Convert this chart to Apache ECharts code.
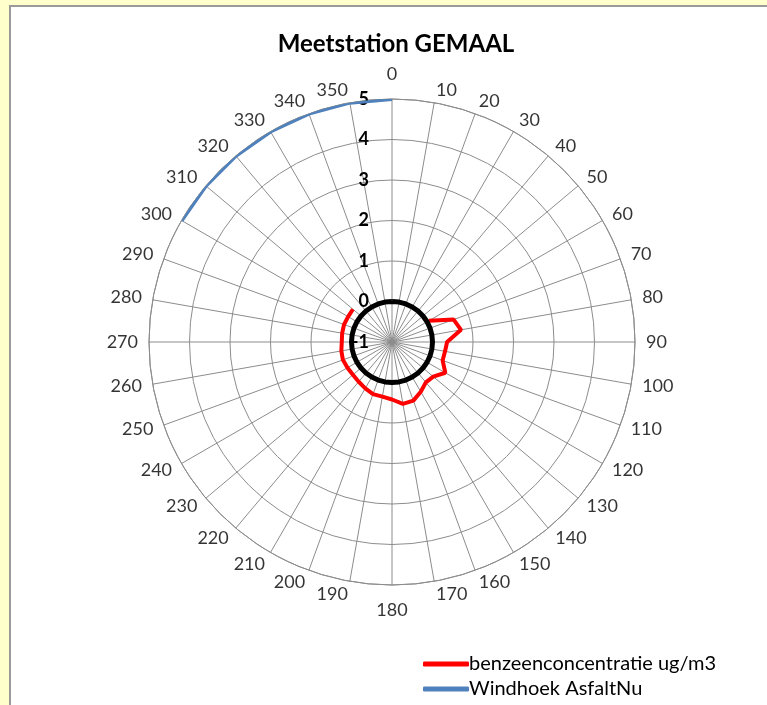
<!DOCTYPE html>
<html>
<head>
<meta charset="utf-8">
<script src="https://cdn.jsdelivr.net/npm/echarts@6/dist/echarts.min.js"></script>
<style>
  html, body { margin: 0; padding: 0; background: #FFFFCC; width: 767px; height: 705px; overflow: hidden; }
  #panel { position: absolute; left: 9px; top: 5px; width: 758px; height: 700px; background: #fff;
           border-left: 2px solid #9a9a9a; border-top: 2px solid #9a9a9a; box-sizing: border-box; }
  #chart { position: absolute; left: 0; top: 0; width: 767px; height: 705px; }
</style>
</head>
<body>
<div id="panel"></div>
<div id="chart"></div>
<script>
// Wind directions (degrees)
const angles = [0,10,20,30,40,50,60,70,80,90,100,110,120,130,140,150,160,170,
                180,190,200,210,220,230,240,250,260,270,280,290,300,310,320,330,340,350];
// benzeenconcentratie ug/m3 per direction (null = no value)
const benzene = [null,null,null,null,null,null,0.05,0.62,0.73,0.36,0.33,0.33,0.52,0.33,0.30,0.42,0.54,0.55,
                 0.42,0.37,0.37,0.32,0.28,0.26,0.27,0.29,0.27,0.24,0.25,0.26,0.25,0.26,null,null,null,null];
// Windhoek AsfaltNu
const windhoek = [5,null,null,null,null,null,null,null,null,null,null,null,null,null,null,null,null,null,
                  null,null,null,null,null,null,null,null,null,null,null,null,5,5,5,5,5,5];
// reference ring at 0
const zeroRing = angles.map(() => 0);

const radiusMin = -1, radiusMax = 5, radiusStep = 1;
const polarRadius = 243;
const unitPx = polarRadius / (radiusMax - radiusMin);

function toPolar(vals) {
  const d = angles.map((a, i) => [vals[i], a]);
  d.push([vals[0], 360]); // close the loop
  return d;
}

// angle labels placed just outside the outer ring (Excel-like placement)
const angleLabelData = angles.map(a => {
  const s = Math.sin(a * Math.PI / 180), c = Math.cos(a * Math.PI / 180);
  const onAxis = Math.abs(s) < 0.01;
  const gapPx = onAxis ? 17 : 11;
  return {
    value: [radiusMax + gapPx / unitPx, a],
    label: {
      align: onAxis ? 'center' : (s > 0 ? 'left' : 'right'),
      verticalAlign: 'middle',
      offset: [0, -c * (onAxis ? 8 : 2)]
    }
  };
});

const font = 'Lato, "Open Sans", sans-serif';
const chart = echarts.init(document.getElementById('chart'), null, { renderer: 'canvas' });
chart.setOption({
  backgroundColor: 'transparent',
  animation: false,
  title: {
    text: 'Meetstation GEMAAL',
    left: 391, top: 27, textAlign: 'center',
    textStyle: { fontFamily: font, fontSize: 24, fontWeight: 'bold', color: '#000' }
  },
  legend: {
    orient: 'vertical',
    left: 418, top: 649,
    itemWidth: 46, itemHeight: 5, itemGap: 5,
    icon: 'roundRect',
    data: ['benzeenconcentratie ug/m3', 'Windhoek AsfaltNu'],
    textStyle: { fontFamily: font, fontSize: 20, color: '#000', padding: [0, 0, 0, -5] }
  },
  polar: { center: [392, 342], radius: polarRadius },
  angleAxis: {
    type: 'value', min: 0, max: 360, interval: 10,
    startAngle: 90, clockwise: true,
    axisLine: { show: true, lineStyle: { color: '#8c8c8c', width: 1 } },
    axisTick: { show: false },
    splitLine: { show: true, lineStyle: { color: '#8c8c8c', width: 1 } },
    axisLabel: { show: false }
  },
  radiusAxis: {
    type: 'value', min: radiusMin, max: radiusMax, interval: radiusStep,
    axisLine: { show: false },
    axisTick: { show: false },
    splitLine: { show: true, lineStyle: { color: '#8c8c8c', width: 1 } },
    axisLabel: { margin: 23, fontFamily: font, fontSize: 18, fontWeight: 'bold', color: '#000' }
  },
  series: [
    {
      name: 'benzeenconcentratie ug/m3', type: 'line', coordinateSystem: 'polar',
      data: toPolar(benzene), showSymbol: false, connectNulls: false,
      lineStyle: { color: '#ff0000', width: 4 }, itemStyle: { color: '#ff0000' }, z: 3
    },
    {
      name: 'Windhoek AsfaltNu', type: 'line', coordinateSystem: 'polar',
      data: toPolar(windhoek), showSymbol: false, connectNulls: false,
      lineStyle: { color: '#4f81bd', width: 4 }, itemStyle: { color: '#4f81bd' }, z: 3
    },
    {
      name: 'ring', type: 'line', coordinateSystem: 'polar',
      data: toPolar(zeroRing), showSymbol: false, silent: true,
      lineStyle: { color: '#000', width: 5 }, itemStyle: { color: '#000' }, z: 4
    },
    {
      name: 'angleLabels', type: 'scatter', coordinateSystem: 'polar',
      data: angleLabelData, symbolSize: 0, silent: true, clip: false,
      label: {
        show: true, position: 'inside',
        fontFamily: font, fontSize: 18, color: '#000',
        formatter: p => String(p.value[1])
      }
    }
  ]
});
</script>
</body>
</html>
